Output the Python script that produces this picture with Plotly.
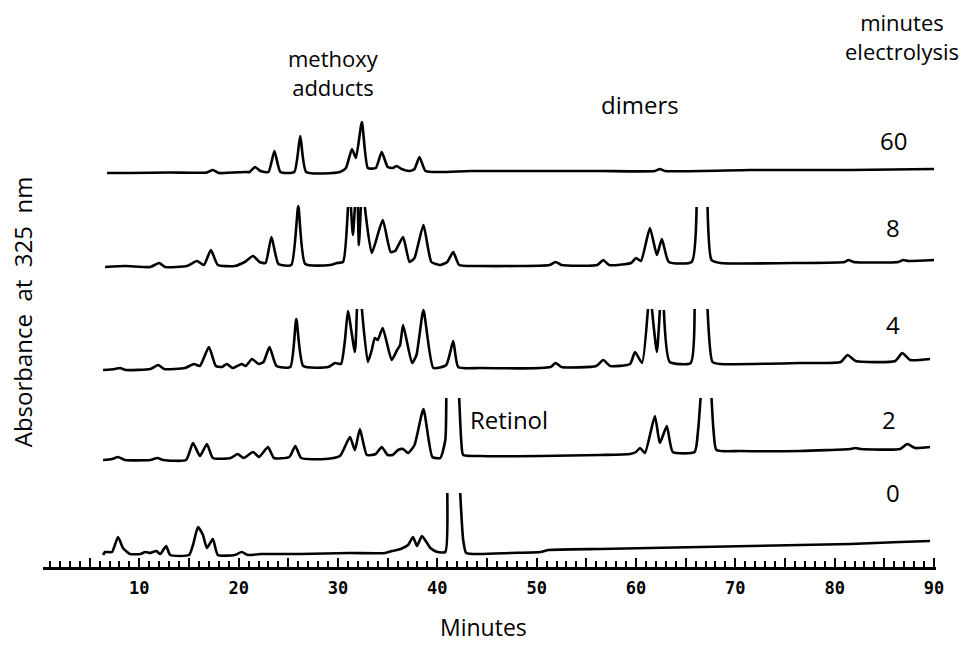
import plotly.graph_objects as go

# HPLC traces of retinol electrolysis mixtures (retention time in minutes,
# detector response in chart units above each trace's own zero).
# None marks where the pen ran off scale on a peak.

t_60 = [6.75, 9.1, 13.1, 16.8, 17.4, 18.0, 20.6, 21.1, 21.65, 22.2, 23.0, 23.6, 24.2, 25.6, 26.2,
        26.8, 30.2, 30.8, 31.4, 31.8, 32.4, 33.0, 33.8, 34.4, 35.0, 35.5, 35.9, 36.4, 37.2, 37.7,
        38.2, 38.8, 40.3, 43.3, 48.3, 56.4, 61.9, 62.4, 62.9, 71.5, 81.6, 90.0]
a_60 = [0, 0, 0.5, 0.5, 3, 0, 1, 1, 6, 2, 1, 22, 1, 1, 37,
        1, 1, 5, 24, 15, 51, 5, 5, 21, 6, 5, 7, 4, 2, 4,
        16, 2, 1, 2, 2, 2, 2, 4, 2, 3, 3, 4]

t_8 = [6.55, 8.6, 11.1, 12.0, 12.6, 14.8, 15.8, 16.5, 17.2, 17.9, 19.6, 20.6, 21.45, 22.1, 22.7,
       23.3, 24.0, 25.3, 26.0, 26.7, 29.2, 29.9, 30.5, 31.0, 31.15, 31.3, 31.5, 31.7, 31.85, 32.0,
       32.1, 32.3, 32.5, 32.7, 33.4, 34.5, 35.3, 35.75, 36.55, 37.2, 37.7, 38.6, 39.4, 40.3, 41.0,
       41.6, 42.2, 44.3, 51.3, 51.9, 52.5, 56.1, 56.7, 57.3, 59.5, 60.0, 60.5, 61.4, 62.1, 62.6,
       63.3, 65.6, 66.1, 66.6, 67.2, 67.6, 68.5, 76.5, 81.0, 81.4, 81.9, 86.4, 86.9, 87.4, 90.0]
a_8 = [0, 1, 0, 4, 0, 1, 6, 2, 17, 2, 1, 5, 11, 5, 4,
       30, 3, 2, 61, 3, 2, 4, 5, 60, None, 60, 32, 60, None, 60,
       22, 60, None, 60, 14, 47, 15, 16, 30, 5, 9, 42, 5, 2, 5,
       15, 2, 1, 2, 5, 2, 2, 7, 2, 4, 9, 6, 39, 12, 28,
       5, 5, 60, None, 60, 7, 4, 4, 5, 7, 5, 5, 7, 6, 7]

t_4 = [6.35, 7.55, 8.05, 8.65, 11.1, 11.9, 12.5, 14.6, 15.5, 16.1, 17.0, 17.7, 18.3, 18.8, 19.4,
       20.3, 20.7, 21.35, 22.0, 22.5, 23.1, 23.8, 25.2, 25.8, 26.5, 29.0, 29.7, 30.3, 30.7, 31.0,
       31.7, 31.9, 32.15, 32.4, 33.0, 33.4, 33.7, 34.0, 34.5, 35.4, 35.95, 36.25, 36.55, 37.45, 37.9,
       38.6, 39.6, 40.9, 41.6, 42.1, 44.3, 51.4, 51.9, 52.5, 56.0, 56.7, 57.4, 59.4, 59.9, 60.6,
       61.2, 61.4, 61.6, 62.1, 62.4, 62.6, 62.8, 63.4, 65.5, 65.9, 66.5, 67.2, 67.7, 68.5, 76.5,
       80.6, 81.3, 82.1, 86.1, 86.8, 87.6, 89.6]
a_4 = [0, 1, 2, 0, 1, 5, 1, 2, 6, 4, 23, 4, 3, 6, 2,
       6, 4, 11, 6, 8, 23, 4, 3, 51, 4, 3, 7, 6, 30, 59,
       18, 61, None, 61, 8, 20, 32, 30, 42, 10, 20, 25, 45, 7, 15,
       60, 2, 5, 29, 3, 2, 3, 7, 3, 4, 10, 4, 6, 18, 7,
       61, None, 61, 18, 60, None, 60, 8, 7, 61, None, 61, 8, 6, 7,
       8, 15, 9, 9, 17, 10, 11]

t_2 = [6.35, 7.25, 7.85, 8.55, 11.1, 11.8, 12.4, 14.7, 15.4, 16.1, 16.8, 17.4, 19.2, 19.9, 20.5,
       21.45, 22.05, 22.95, 23.55, 25.1, 25.7, 26.3, 28.7, 30.2, 31.2, 31.7, 32.2, 32.9, 33.8, 34.4,
       35.0, 35.5, 36.05, 36.55, 37.05, 37.7, 38.6, 39.5, 40.3, 40.8, 40.9, 41.5, 42.2, 42.4, 42.6,
       44.3, 50.4, 56.4, 59.4, 60.0, 60.4, 60.9, 61.9, 62.4, 63.1, 63.7, 65.9, 66.25, 66.5, 67.0,
       67.6, 67.8, 68.1, 70.5, 76.5, 81.6, 82.1, 82.6, 86.6, 87.3, 88.1, 89.6]
a_2 = [0, 1, 3, 0, 0, 2, 0, 0, 17, 4, 16, 2, 2, 6, 2,
       8, 3, 13, 2, 3, 14, 2, 1, 4, 23, 10, 31, 5, 6, 13,
       5, 5, 10, 11, 7, 15, 51, 3, 2, 20, 62, None, 62, 20, 5,
       4, 4, 5, 6, 8, 12, 7, 44, 17, 34, 8, 8, 30, 62, None,
       62, 30, 10, 9, 9, 11, 12, 11, 11, 16, 12, 13]

t_0 = [6.35, 6.55, 7.25, 7.85, 8.35, 9.05, 10.1, 10.6, 11.1, 11.7, 12.1, 12.7, 13.1, 15.0, 15.4,
       15.9, 16.4, 16.8, 17.4, 17.9, 19.6, 20.3, 20.95, 22.2, 26.2, 31.2, 34.75, 35.45, 36.3, 37.05,
       37.55, 37.95, 38.45, 39.3, 40.0, 40.8, 41.0, 41.6, 42.3, 42.6, 42.9, 44.3, 47.3, 50.4, 51.2,
       56.4, 61.4, 66.5, 71.5, 76.5, 81.6, 86.6, 89.6]
a_0 = [0, 3, 3, 18, 7, 1, 1, 3, 2, 4, 1, 9, 0, 0, 10,
       28, 20, 7, 16, 0, 0, 3, 0, 1, 1, 2, 2, 4, 6, 10,
       18, 9, 19, 7, 3, 3, 62, None, 62, 15, 2, 1, 2, 3, 5,
       6, 7, 8, 9, 10, 11, 13, 14]

runs = ["60", "8", "4", "2", "0"]
times = [t_60, t_8, t_4, t_2, t_0]
signals = [a_60, a_8, a_4, a_2, a_0]

x_tick_values = [0, 5, 10, 15, 20, 25, 30, 35, 40, 45, 50, 55, 60, 65, 70, 75, 80, 85, 90]
x_tick_labels = ["", "", "10", "", "20", "", "30", "", "40", "", "50", "", "60", "", "70", "", "80", "", "90"]

# vertical stacking of the runs (chart units above the time ruler)
stack_offset = {"60": 394, "8": 300, "4": 197, "2": 107, "0": 12}

fig = go.Figure()
for run, t, a in zip(runs, times, signals):
    off = stack_offset[run]
    y = [None if v is None else v + off for v in a]
    fig.add_trace(go.Scatter(x=t, y=y, mode="lines", name=run + " min",
                             line=dict(color="black", width=2.6, shape="spline", smoothing=0.5),
                             connectgaps=False, showlegend=False, hoverinfo="skip"))

TEXT_FONT = dict(family="Open Sans", size=24, color="black")

annotations = [
    dict(text="methoxy<br>adducts", x=29.5, y=495, font=dict(family="Open Sans", size=22, color="black")),
    dict(text="dimers", x=60.4, y=463),
    dict(text="60", x=85.9, y=427),
    dict(text="8", x=85.9, y=340),
    dict(text="4", x=85.9, y=243),
    dict(text="2", x=85.5, y=148),
    dict(text="0", x=85.9, y=75),
    dict(text="Retinol", x=43.1, y=148, xanchor="left"),
]
for ann in annotations:
    ann.setdefault("xanchor", "center")
    ann.setdefault("font", TEXT_FONT)
    fig.add_annotation(xref="x", yref="y", showarrow=False, yanchor="middle", **ann)

fig.add_annotation(text="minutes<br>electrolysis", xref="paper", yref="y",
                   x=1.027, y=531, xanchor="right", yanchor="middle", borderpad=0,
                   showarrow=False, font=dict(family="Open Sans", size=22, color="black"))
fig.add_annotation(text="Absorbance\u00a0 at\u00a0 325\u00a0 nm", xref="paper", yref="paper",
                   x=-0.022, y=0.458, textangle=-90, showarrow=False,
                   xanchor="center", yanchor="middle", font=TEXT_FONT)
fig.add_annotation(text="Minutes", xref="x", yref="paper", x=44.6, y=-0.108,
                   showarrow=False, xanchor="center", yanchor="middle", borderpad=0,
                   font=dict(family="Open Sans", size=23, color="black"))

fig.update_layout(
    width=964, height=646,
    margin=dict(l=43, r=28, t=10, b=79),
    paper_bgcolor="white", plot_bgcolor="white",
    xaxis=dict(range=[0.3, 90.2], showgrid=False, zeroline=False,
               showline=True, linecolor="black", linewidth=3,
               tickmode="array", tickvals=x_tick_values, ticktext=x_tick_labels,
               ticks="inside", ticklen=9, tickwidth=2, tickcolor="black",
               minor=dict(ticks="inside", dtick=1, ticklen=6, tickwidth=1.6, tickcolor="black"),
               ticklabelstandoff=4,
               tickfont=dict(family="DejaVu Sans Mono", size=17, color="black", weight="bold")),
    yaxis=dict(range=[0, 557], visible=False, showgrid=False, zeroline=False),
)

fig.write_html("out.html")
